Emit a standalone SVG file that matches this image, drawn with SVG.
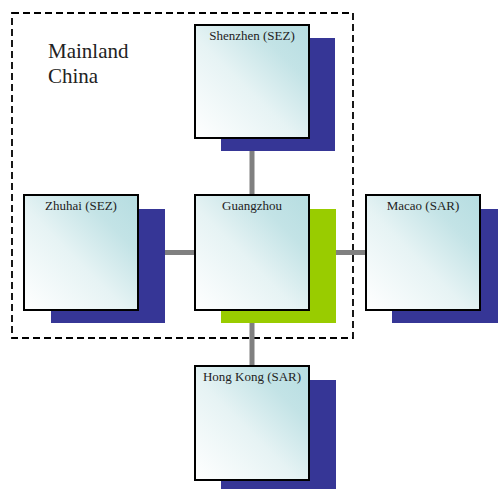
<svg xmlns="http://www.w3.org/2000/svg" width="498" height="489" viewBox="0 0 498 489">
<defs>
<linearGradient id="fill" x1="1" y1="0" x2="0" y2="1">
<stop offset="0" stop-color="#b6dde1"/>
<stop offset="0.25" stop-color="#c3e3e6"/>
<stop offset="0.55" stop-color="#e6f3f4"/>
<stop offset="1" stop-color="#ffffff"/>
</linearGradient>
<style>
.box{fill:url(#fill);stroke:#000;stroke-width:2}
.sh{fill:#363696}
.shg{fill:#99cc00}
.lbl{font-family:"Liberation Serif",serif;font-size:13px;fill:#222;text-anchor:middle}
.conn{stroke:#808080;stroke-width:5;fill:none}
</style>
</defs>
<rect width="498" height="489" fill="#fff"/>
<g id="region">
<rect x="12" y="13" width="341" height="325" fill="none" stroke="#000" stroke-width="1.8" stroke-dasharray="7 4"/>
<text x="48" y="58" font-family="Liberation Serif, serif" font-size="21" fill="#222">Mainland</text>
<text x="48" y="83" font-family="Liberation Serif, serif" font-size="21" fill="#222">China</text>
</g>
<g id="connectors">
<line class="conn" x1="252" y1="82" x2="252" y2="252"/>
<line class="conn" x1="81" y1="252.5" x2="252" y2="252.5"/>
<line class="conn" x1="252" y1="252.5" x2="422" y2="252.5"/>
<line class="conn" x1="252" y1="252" x2="252" y2="423"/>
</g>
<g id="shenzhen">
<rect class="sh" x="221" y="38" width="114" height="113"/>
<rect class="box" x="195" y="25" width="114" height="113"/>
<text class="lbl" x="252" y="40">Shenzhen (SEZ)</text>
</g>
<g id="zhuhai">
<rect class="sh" x="51" y="209" width="114" height="114"/>
<rect class="box" x="24" y="195" width="114" height="115"/>
<text class="lbl" x="81" y="210">Zhuhai (SEZ)</text>
</g>
<g id="guangzhou">
<rect class="shg" x="221" y="209" width="115" height="114"/>
<rect class="box" x="195" y="195" width="114" height="115"/>
<text class="lbl" x="252" y="210">Guangzhou</text>
</g>
<g id="macao">
<rect class="sh" x="392" y="209" width="114" height="114"/>
<rect class="box" x="366" y="195" width="114" height="115"/>
<text class="lbl" x="423" y="210">Macao (SAR)</text>
</g>
<g id="hongkong">
<rect class="sh" x="221" y="380" width="115" height="114"/>
<rect class="box" x="195" y="366" width="114" height="114"/>
<text class="lbl" x="252" y="381">Hong Kong (SAR)</text>
</g>
</svg>
